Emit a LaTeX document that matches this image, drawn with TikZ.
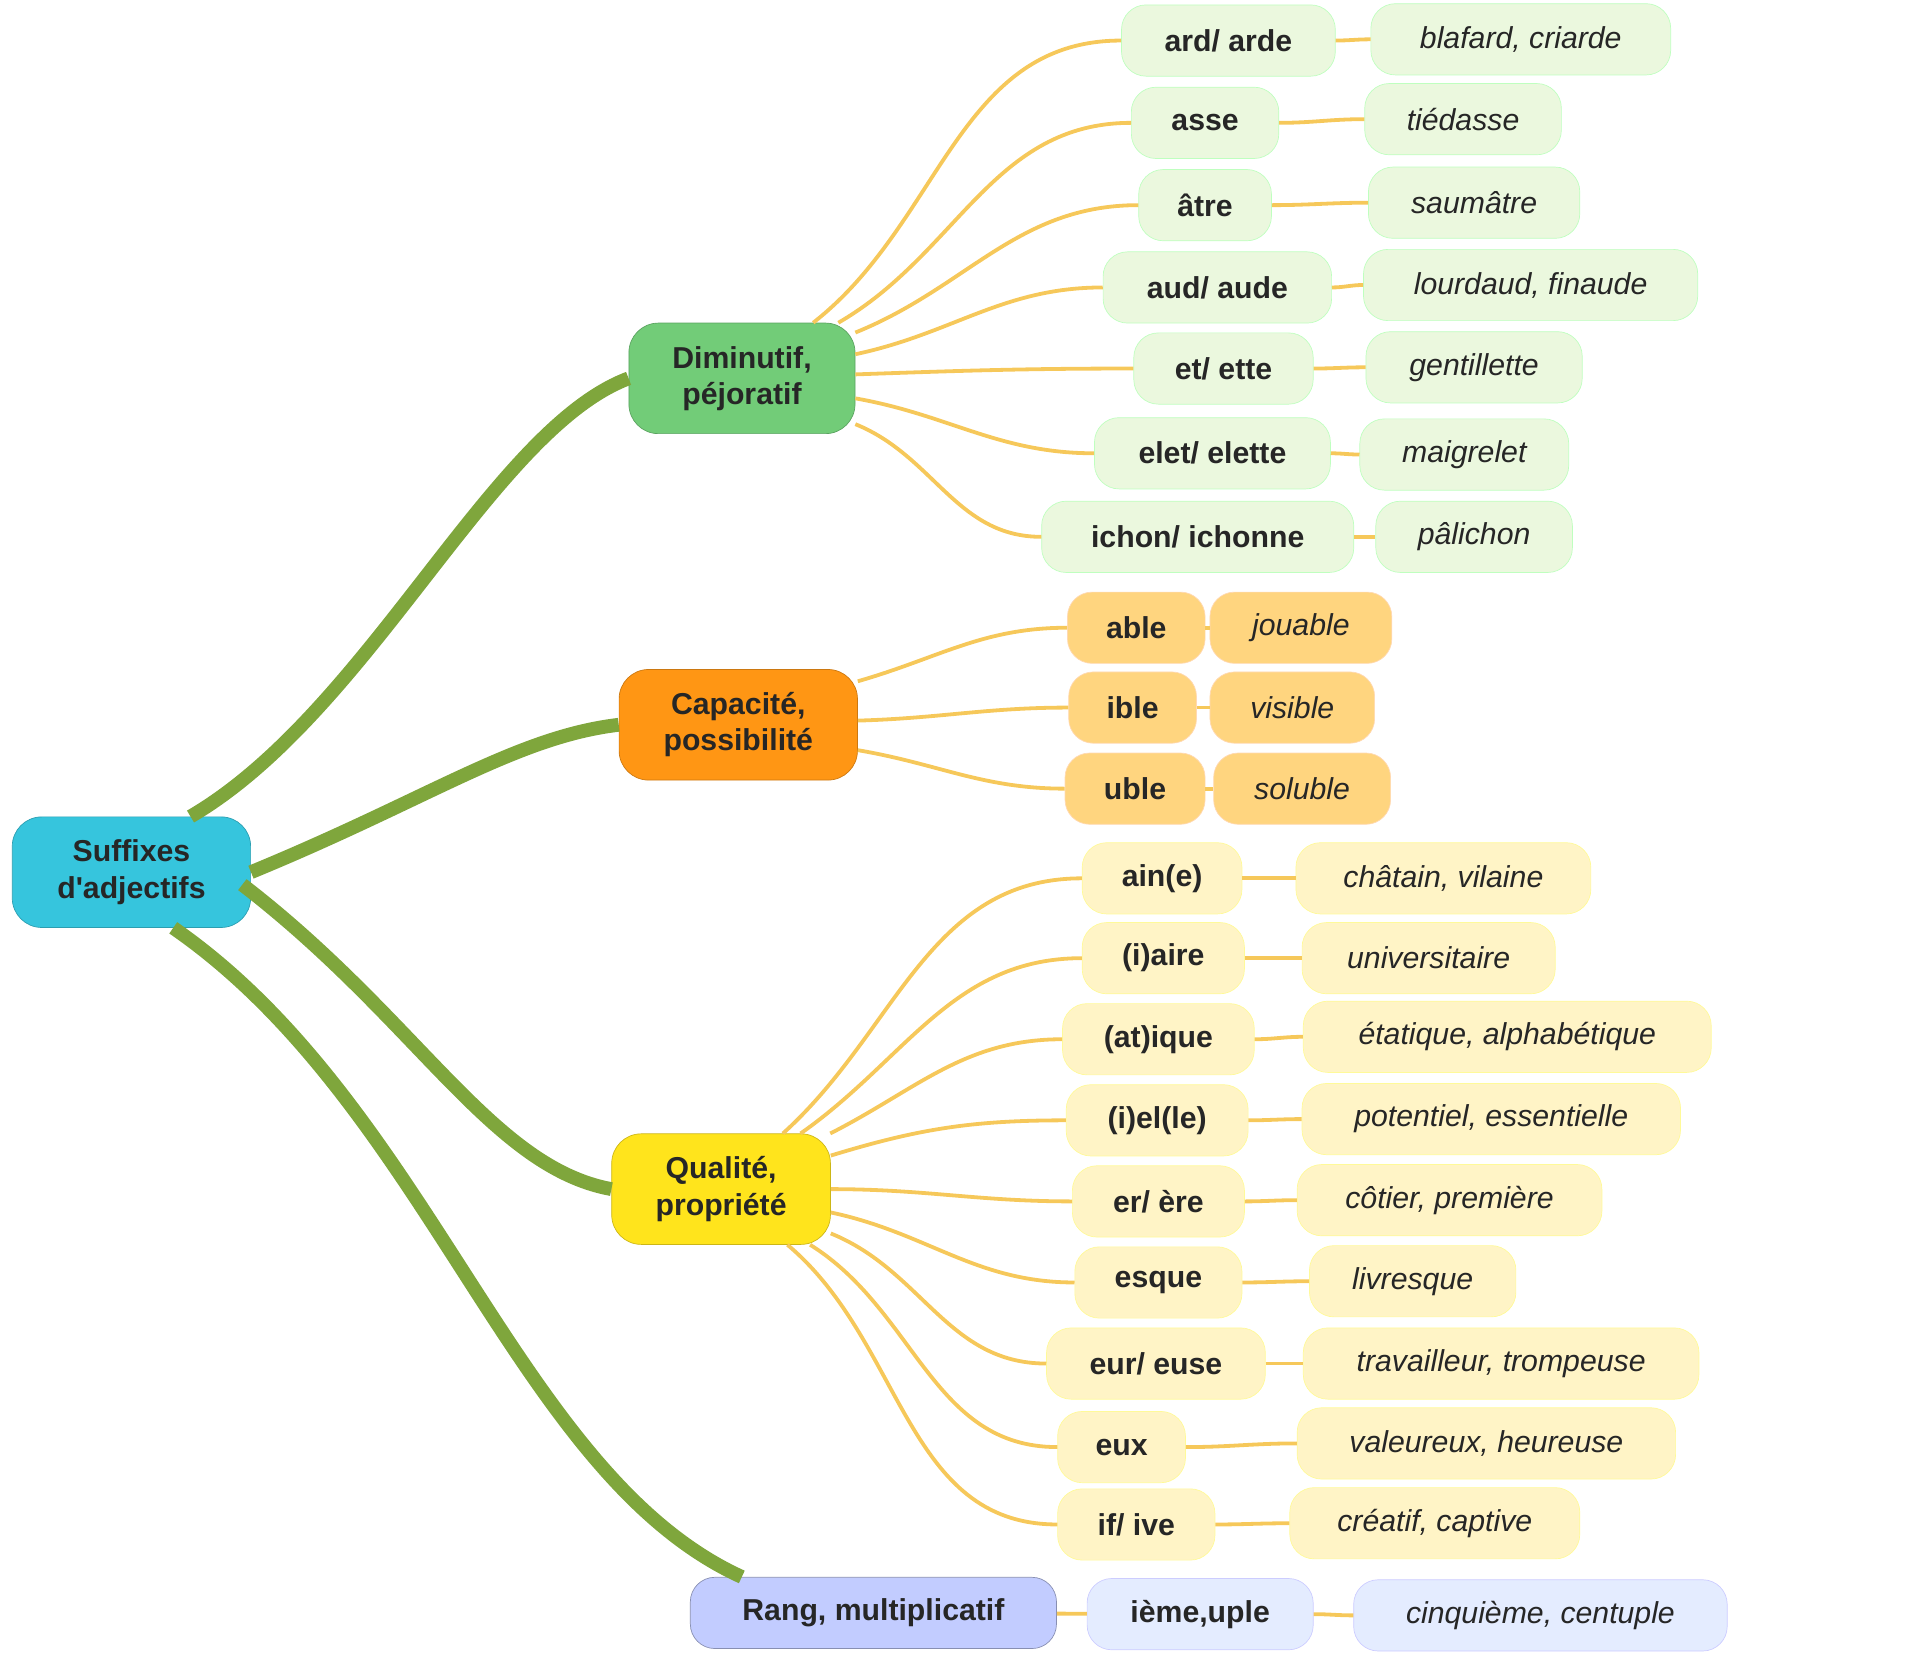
\documentclass[tikz,border=0pt]{standalone}
\usepackage{fontspec}
\setmainfont{Liberation Sans}
\usepackage{tikz}
\definecolor{rootc}{HTML}{36C5DD}
\definecolor{dimc}{HTML}{72CC78}
\definecolor{capc}{HTML}{FF9614}
\definecolor{qualc}{HTML}{FFE41C}
\definecolor{rangc}{HTML}{C2CCFF}
\definecolor{dimlc}{HTML}{EBF8DE}
\definecolor{caplc}{HTML}{FFD57F}
\definecolor{quallc}{HTML}{FFF4C6}
\definecolor{ranglc}{HTML}{E4ECFF}
\definecolor{branchc}{HTML}{7FA63C}
\definecolor{twigc}{HTML}{F6C85A}
\tikzset{
  box/.style={rounded corners=0.5cm, minimum height=1.45cm, align=center, font=\fontsize{17.5}{21}\selectfont\bfseries, text=black!85},
  main/.style={box, minimum height=2.25cm, rounded corners=0.6cm},
  dim/.style={box, fill=dimlc, draw=green!25},
  capa/.style={box, fill=caplc, draw=orange!30},
  qual/.style={box, fill=quallc, draw=yellow!40},
  rang/.style={box, fill=ranglc, draw=blue!20},
  ex/.style={font=\fontsize{17.5}{21}\selectfont\itshape},
  branch/.style={draw=branchc, line width=8pt},
  twig/.style={draw=twigc, line width=2.2pt},
}
\begin{document}
\begin{tikzpicture}[x=0.025cm, y=-0.025cm]
\useasboundingbox (0,0) rectangle (1563,1350);
% main nodes
\node[main, fill=rootc, draw=rootc!80!black, minimum width=4.85cm] (root) at (107,710) {Suffixes\\d\textquotesingle adjectifs};
\node[main, fill=dimc, draw=dimc!80!black, minimum width=4.6cm] (dim) at (604,308) {Diminutif,\\péjoratif};
\node[main, fill=capc, draw=capc!80!black, minimum width=4.85cm] (cap) at (601,590) {Capacité,\\possibilité};
\node[main, fill=qualc, draw=qualc!80!black, minimum width=4.45cm] (qual) at (587,968) {Qualité,\\propriété};
\node[box, fill=rangc, draw=rangc!70!black, minimum width=7.45cm] (rang) at (711,1313) {Rang, multiplicatif};
% branches
\draw[branch] ([xshift=-35]root.north east) .. controls (300,580) and (400,350) .. (dim.west);
\draw[branch] (root.east) .. controls (350,650) and (420,600) .. (cap.west);
\draw[branch] ([xshift=-5,yshift=25]root.south east) .. controls (340,830) and (400,950) .. (qual.west);
\draw[branch] ([xshift=-45]root.south east) .. controls (350,900) and (420,1200) .. ([xshift=30]rang.north west);
% diminutif
\node[dim, minimum width=4.35cm] (ard) at (1000,33) {ard/ arde};
\node[dim, ex, minimum width=6.1cm] (blafard) at (1238,32) {blafard, criarde};
\node[dim, minimum width=3cm] (asse) at (981,100) {asse};
\node[dim, ex, minimum width=4cm] (tiedasse) at (1191,97) {tiédasse};
\node[dim, minimum width=2.7cm] (atre) at (981,167) {âtre};
\node[dim, ex, minimum width=4.3cm] (saumatre) at (1200,165) {saumâtre};
\node[dim, minimum width=4.65cm] (aud) at (991,234) {aud/ aude};
\node[dim, ex, minimum width=6.8cm] (lourdaud) at (1246,232) {lourdaud, finaude};
\node[dim, minimum width=3.65cm] (et) at (996,300) {et/ ette};
\node[dim, ex, minimum width=4.4cm] (gentillette) at (1200,299) {gentillette};
\node[dim, minimum width=4.8cm] (elet) at (987,369) {elet/ elette};
\node[dim, ex, minimum width=4.25cm] (maigrelet) at (1192,370) {maigrelet};
\node[dim, minimum width=6.35cm] (ichon) at (975,437) {ichon/ ichonne};
\node[dim, ex, minimum width=4cm] (palichon) at (1200,437) {pâlichon};
% capacite
\node[capa, minimum width=2.8cm] (able) at (925,511) {able};
\node[capa, ex, minimum width=3.7cm] (jouable) at (1059,511) {jouable};
\node[capa, minimum width=2.6cm] (ible) at (922,576) {ible};
\node[capa, ex, minimum width=3.35cm] (visible) at (1052,576) {visible};
\node[capa, minimum width=2.85cm] (uble) at (924,642) {uble};
\node[capa, ex, minimum width=3.6cm] (soluble) at (1060,642) {soluble};
% qualite
\node[qual, minimum width=3.25cm] (ain) at (946,715) {ain(e)};
\node[qual, ex, minimum width=6cm] (chatain) at (1175,715) {châtain, vilaine};
\node[qual, minimum width=3.3cm] (aire) at (947,780) {(i)aire};
\node[qual, ex, minimum width=5.15cm] (universitaire) at (1163,780) {universitaire};
\node[qual, minimum width=3.9cm] (ique) at (943,846) {(at)ique};
\node[qual, ex, minimum width=8.3cm] (etatique) at (1227,844) {étatique, alphabétique};
\node[qual, minimum width=3.7cm] (iel) at (942,912) {(i)el(le)};
\node[qual, ex, minimum width=7.7cm] (potentiel) at (1214,911) {potentiel, essentielle};
\node[qual, minimum width=3.5cm] (er) at (943,978) {er/ ère};
\node[qual, ex, minimum width=6.2cm] (cotier) at (1180,977) {côtier, première};
\node[qual, minimum width=3.4cm] (esque) at (943,1044) {esque};
\node[qual, ex, minimum width=4.2cm] (livresque) at (1150,1043) {livresque};
\node[qual, minimum width=4.45cm] (eur) at (941,1110) {eur/ euse};
\node[qual, ex, minimum width=8.05cm] (travailleur) at (1222,1110) {travailleur, trompeuse};
\node[qual, minimum width=2.6cm] (eux) at (913,1178) {eux};
\node[qual, ex, minimum width=7.7cm] (valeureux) at (1210,1175) {valeureux, heureuse};
\node[qual, minimum width=3.2cm] (if) at (925,1241) {if/ ive};
\node[qual, ex, minimum width=5.9cm] (creatif) at (1168,1240) {créatif, captive};
% rang
\node[rang, minimum width=4.6cm] (ieme) at (977,1314) {ième,uple};
\node[rang, ex, minimum width=7.6cm] (cinquieme) at (1254,1315) {cinquième, centuple};
% twigs
\foreach \a/\ang in {ard/38,asse/30,atre/22,aud/12,et/2,elet/-10,ichon/-22}
  \draw[twig] (dim.\ang) to[out=\ang, in=180] (\a.west);
\foreach \a/\ang in {able/20,ible/2,uble/-12}
  \draw[twig] (cap.\ang) to[out=\ang*0.8, in=180] (\a.west);
\foreach \a/\ang in {ain/42,aire/35,ique/27,iel/17,er/0,esque/-12,eur/-22,eux/-32,if/-40}
  \draw[twig] (qual.\ang) to[out=\ang, in=180] (\a.west);
\draw[twig] (rang) -- (ieme);
\foreach \a/\b in {ard/blafard,asse/tiedasse,atre/saumatre,aud/lourdaud,et/gentillette,elet/maigrelet,ichon/palichon,able/jouable,ible/visible,uble/soluble,ain/chatain,aire/universitaire,ique/etatique,iel/potentiel,er/cotier,esque/livresque,eur/travailleur,eux/valeureux,if/creatif,ieme/cinquieme}
  \draw[twig] (\a.east) to[out=0, in=180] (\b.west);
\end{tikzpicture}
\end{document}
